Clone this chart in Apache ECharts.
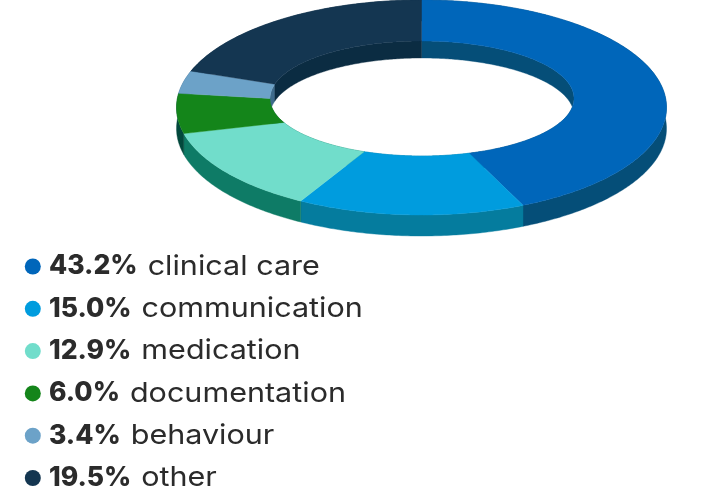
<!DOCTYPE html>
<html><head><meta charset="utf-8">
<style>html,body{margin:0;padding:0;background:#fff}#c{width:720px;height:489px}</style>
<script src="https://cdn.jsdelivr.net/npm/echarts@6/dist/echarts.min.js"></script>
</head><body><div id="c"></div>
<script>
const categories = ['clinical care','communication','medication','documentation','behaviour','other'];
const shares = [43.2,15.0,12.9,6.0,3.4,19.5];
const topColors = ['#0066BA','#009CDE','#71DDCB','#14851A','#6CA2C8','#143651'];
const outerWallColors = ['#054E78','#057C9E','#0E7B66','#02483C','#3E6B8C','#0B2C42'];
const innerWallColors = ['#054E78','#057C9E','#0E7B66','#0B5A3A','#3E6B8C','#0B2C42'];

const O = {cx:421.5, cy:107.5, rx:245, ry:107.5};
const I = {cx:422, cy:98.5, rx:152, ry:57.5};
const V = {x:421.5, y:107};
const outerDepth = 21, innerDepth = 17;

const total = shares.reduce((a,b)=>a+b,0);
const cumulative = shares.map((_,i)=>shares.slice(0,i).reduce((a,b)=>a+b,0));
function outerPt(t){return [O.cx+O.rx*Math.sin(t), O.cy-O.ry*Math.cos(t)];}
function innerPt(t){
  const p=outerPt(t), dx=p[0]-V.x, dy=p[1]-V.y;
  const ex=V.x-I.cx, ey=V.y-I.cy;
  const A=dx*dx/(I.rx*I.rx)+dy*dy/(I.ry*I.ry);
  const B=2*(ex*dx/(I.rx*I.rx)+ey*dy/(I.ry*I.ry));
  const C=ex*ex/(I.rx*I.rx)+ey*ey/(I.ry*I.ry)-1;
  const s=(-B+Math.sqrt(B*B-4*A*C))/(2*A);
  return [V.x+s*dx, V.y+s*dy];
}
function sweep(fn,a,b,dy){
  const n=Math.max(4,Math.ceil((b-a)*80)), out=[];
  for(let i=0;i<=n;i++){const p=fn(a+(b-a)*i/n); out.push([p[0],p[1]+(dy||0)]);}
  return out;
}
function angles(api){
  const i=api.value(0), v=api.value(1);
  const a=cumulative[i]/total*2*Math.PI, b=a+v/total*2*Math.PI;
  return {i,a,b};
}
const ringData = shares.map((v,i)=>[i,v]);
function outerWall(p,api){
  const {i,a,b}=angles(api);
  const pts=sweep(outerPt,a,b,0).concat(sweep(outerPt,a,b,outerDepth).reverse());
  return {type:'polygon',shape:{points:pts},style:{fill:outerWallColors[i],stroke:outerWallColors[i],lineWidth:.4}};
}
function innerWall(p,api){
  const {i,a,b}=angles(api);
  const pts=sweep(innerPt,a,b,0).concat(sweep(innerPt,a,b,innerDepth).reverse());
  return {type:'polygon',shape:{points:pts},style:{fill:innerWallColors[i],stroke:innerWallColors[i],lineWidth:.4}};
}
function topFace(p,api){
  const {i,a,b}=angles(api);
  const pts=sweep(outerPt,a,b,0).concat(sweep(innerPt,a,b,0).reverse());
  return {type:'polygon',shape:{points:pts},style:{fill:topColors[i],stroke:topColors[i],lineWidth:.4}};
}
const legendTop=266.5, legendStep=42.3;
const labelGap = 10;
const boldFont = '800 26.5px Inter', normalFont = '400 27.5px Inter';
const labelStretch = 1.11;
const measure = document.createElement('canvas').getContext('2d');
function legendRow(p,api){
  const i=api.value(0), y=legendTop+i*legendStep;
  const pct=api.value(1).toFixed(1)+'%';
  measure.font=boldFont;
  const w=measure.measureText(pct).width;
  return {type:'group',children:[
    {type:'circle',shape:{cx:32.8,cy:y,r:8},style:{fill:topColors[i]}},
    {type:'text',x:49,y:y,style:{text:pct,verticalAlign:'middle',font:boldFont,fill:'#2b2b2b'}},
    {type:'text',x:49+w+labelGap,y:y,scaleX:labelStretch,style:{text:categories[i],verticalAlign:'middle',font:normalFont,fill:'#2b2b2b'}}
  ]};
}
const chart=echarts.init(document.getElementById('c'),null,{renderer:'canvas'});
const base={type:'custom',coordinateSystem:'none',data:ringData,silent:true,animation:false,clip:false};
chart.setOption({animation:false,backgroundColor:'#fff',
  series:[
    Object.assign({},base,{name:'outer wall',z:1,renderItem:outerWall}),
    Object.assign({},base,{name:'inner wall',z:2,renderItem:innerWall}),
    Object.assign({},base,{name:'top face',z:3,renderItem:topFace}),
    Object.assign({},base,{name:'legend',z:4,renderItem:legendRow})
  ]});
</script></body></html>
